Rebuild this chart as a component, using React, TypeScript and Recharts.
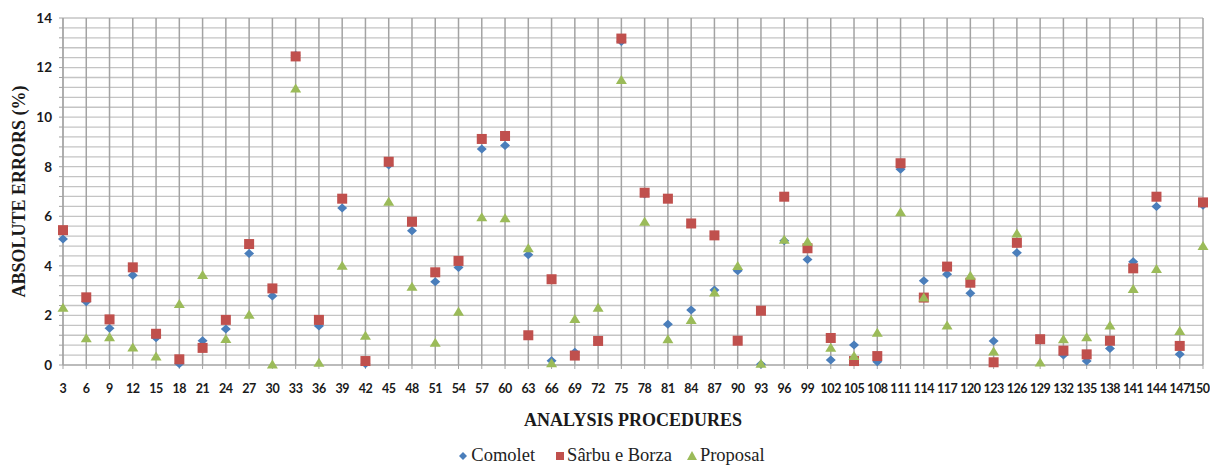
import { ScatterChart, Scatter, XAxis, YAxis, CartesianGrid, Legend } from 'recharts';

const PROCEDURES = [
  3, 6, 9, 12, 15, 18, 21, 24, 27, 30, 33, 36, 39, 42, 45, 48, 51, 54, 57, 60, 63, 66, 69, 72, 75,
  78, 81, 84, 87, 90, 93, 96, 99, 102, 105, 108, 111, 114, 117, 120, 123, 126, 129, 132, 135, 138,
  141, 144, 147, 150,
];

const COMOLET = [
  5.08, 2.55, 1.48, 3.62, 1.1, 0.05, 0.98, 1.45, 4.5, 2.78, 12.5, 1.57, 6.33, 0.05, 8.07, 5.42, 3.36,
  3.93, 8.71, 8.86, 4.45, 0.17, 0.51, 0.95, 13.05, 6.9, 1.64, 2.22, 3.03, 3.8, 0.03, 5.01, 4.26, 0.2,
  0.81, 0.13, 7.9, 3.4, 3.66, 2.89, 0.97, 4.53, 1.0, 0.4, 0.16, 0.67, 4.17, 6.39, 0.43, 6.45,
];

const SARBU_BORZA = [
  5.44, 2.73, 1.84, 3.94, 1.26, 0.23, 0.69, 1.82, 4.88, 3.09, 12.45, 1.82, 6.71, 0.16, 8.2, 5.78, 3.74,
  4.2, 9.12, 9.24, 1.2, 3.46, 0.38, 0.97, 13.17, 6.95, 6.71, 5.71, 5.23, 0.98, 2.19, 6.79, 4.71, 1.09,
  0.16, 0.36, 8.14, 2.72, 3.97, 3.32, 0.11, 4.93, 1.04, 0.58, 0.43, 0.98, 3.9, 6.79, 0.77, 6.56,
];

const PROPOSAL = [
  2.31, 1.08, 1.12, 0.71, 0.34, 2.46, 3.63, 1.05, 2.03, 0.02, 11.16, 0.09, 4.0, 1.18, 6.59, 3.16, 0.9,
  2.15, 5.96, 5.92, 4.71, 0.07, 1.86, 2.31, 11.5, 5.78, 1.04, 1.82, 2.93, 3.99, 0.05, 5.05, 4.97, 0.7,
  0.36, 1.3, 6.16, 2.72, 1.59, 3.6, 0.54, 5.31, 0.1, 1.04, 1.12, 1.59, 3.07, 3.87, 1.37, 4.8,
];

const Y_TICKS = [
  0, 0.4, 0.8, 1.2, 1.6, 2, 2.4, 2.8, 3.2, 3.6, 4, 4.4, 4.8, 5.2, 5.6, 6, 6.4, 6.8, 7.2, 7.6, 8, 8.4,
  8.8, 9.2, 9.6, 10, 10.4, 10.8, 11.2, 11.6, 12, 12.4, 12.8, 13.2, 13.6, 14,
];

const SERIES_NAMES = ['Comolet', 'Sârbu e Borza', 'Proposal'];

const BLUE = '#4a7ebb';
const RED = '#c0504d';
const GREEN = '#9bbb59';

const toPoints = (values: number[]) => PROCEDURES.map((proc, i) => ({ proc, value: values[i] }));

const Diamond = (props: any) => {
  const { cx, cy } = props;
  return (
    <polygon
      points={`${cx},${cy - 4.5} ${cx + 5},${cy} ${cx},${cy + 4.5} ${cx - 5},${cy}`}
      fill={BLUE}
    />
  );
};

const Square = (props: any) => {
  const { cx, cy } = props;
  return <rect x={cx - 5} y={cy - 5} width={10} height={10} fill={RED} />;
};

const Triangle = (props: any) => {
  const { cx, cy } = props;
  return <polygon points={`${cx},${cy - 5} ${cx + 5.5},${cy + 4} ${cx - 5.5},${cy + 4}`} fill={GREEN} />;
};

// x tick: last label is pulled in so it is not clipped by the right edge
const ProcTick = (props: any) => {
  const { x, y, payload } = props;
  const last = payload.value === PROCEDURES[PROCEDURES.length - 1];
  return (
    <text
      x={last ? x + 6.5 : x}
      y={y}
      dy="0.71em"
      textAnchor={last ? 'end' : 'middle'}
      fill="#1a1a1a"
      fontSize={12.5}
      fontWeight={700}
      letterSpacing={-0.45}
      fontFamily="Lato, sans-serif"
    >
      {payload.value}
    </text>
  );
};

// legend drawn by hand so the icons match the markers
const renderLegend = () => (
  <div
    style={{
      display: 'flex',
      justifyContent: 'center',
      alignItems: 'center',
      boxSizing: 'border-box',
      height: 30,
      paddingTop: 11,
      paddingLeft: 20,
      lineHeight: '19px',
      fontFamily: '"Liberation Serif", "Times New Roman", serif',
      fontSize: 18.5,
      color: '#222',
    }}
  >
    <svg width={10} height={10} style={{ marginRight: 3 }}>
      <polygon points="5,1 9,5 5,9 1,5" fill={BLUE} />
    </svg>
    <span style={{ marginRight: 21 }}>{SERIES_NAMES[0]}</span>
    <svg width={8} height={8} style={{ marginRight: 3 }}>
      <rect x={0} y={0} width={8} height={8} fill={RED} />
    </svg>
    <span style={{ marginRight: 15 }}>{SERIES_NAMES[1]}</span>
    <svg width={10} height={9} style={{ marginRight: 3 }}>
      <polygon points="5,0 10,9 0,9" fill={GREEN} />
    </svg>
    <span>{SERIES_NAMES[2]}</span>
  </div>
);

export default function App() {
  return (
    <div style={{ position: 'absolute', top: 0, left: 0, width: 1210, height: 465, background: '#fff' }}>
      <ScatterChart width={1210} height={465} margin={{ top: 18, right: 7, left: 0, bottom: 0 }}>
        <CartesianGrid horizontal={true} vertical={false} stroke="#c4c4c4" strokeWidth={1.3} />
        <CartesianGrid horizontal={false} vertical={true} stroke="#a3a3a3" strokeWidth={1.5} />
        <XAxis
          type="number"
          dataKey="proc"
          domain={[3, 150]}
          ticks={PROCEDURES}
          interval={0}
          height={70}
          stroke="#a3a3a3"
          tickSize={4}
          tickMargin={15}
          tick={ProcTick}
          label={{
            value: 'ANALYSIS PROCEDURES',
            position: 'insideBottom',
            offset: 9,
            style: {
              fill: '#1a1a1a',
              fontSize: 18,
              fontWeight: 700,
              fontFamily: '"Liberation Serif", serif',
            },
          }}
        />
        <YAxis
          type="number"
          dataKey="value"
          domain={[0, 14]}
          ticks={Y_TICKS}
          interval={0}
          width={63}
          stroke="#a3a3a3"
          tickSize={4}
          tickMargin={7}
          tickFormatter={(v: number) => (Math.abs(v / 2 - Math.round(v / 2)) < 1e-6 ? String(v) : '')}
          tick={{ fill: '#1a1a1a', fontSize: 13.5, fontWeight: 700, fontFamily: 'Lato, sans-serif' }}
          label={{
            value: 'ABSOLUTE ERRORS (%)',
            angle: -90,
            position: 'insideLeft',
            offset: 19,
            style: {
              textAnchor: 'middle',
              fill: '#1a1a1a',
              fontSize: 18,
              fontWeight: 700,
              fontFamily: '"Liberation Serif", serif',
            },
          }}
        />
        <Legend verticalAlign="bottom" height={30} content={renderLegend} />
        <Scatter name={SERIES_NAMES[0]} data={toPoints(COMOLET)} shape={Diamond} isAnimationActive={false} />
        <Scatter name={SERIES_NAMES[1]} data={toPoints(SARBU_BORZA)} shape={Square} isAnimationActive={false} />
        <Scatter name={SERIES_NAMES[2]} data={toPoints(PROPOSAL)} shape={Triangle} isAnimationActive={false} />
      </ScatterChart>
    </div>
  );
}
